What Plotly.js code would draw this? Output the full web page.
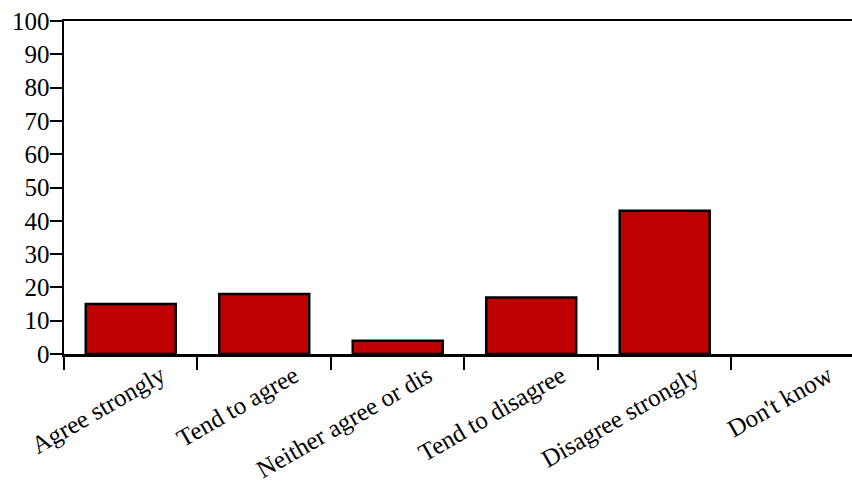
<!DOCTYPE html>
<html>
<head>
<meta charset="utf-8">
<script src="https://cdn.plot.ly/plotly-3.0.1.min.js"></script>
<style>
html,body{margin:0;padding:0;background:#fff;overflow:hidden;}
#chart{width:852px;height:488px;}
</style>
</head>
<body>
<div id="chart"></div>
<script>
var categories = ["Agree strongly", "Tend to agree", "Neither agree or dis", "Tend to disagree", "Disagree strongly", "Don't know"];
var values = [15, 18, 4, 17, 43, 0];
var yTickValues = [0, 10, 20, 30, 40, 50, 60, 70, 80, 90, 100];

var trace = {
  type: 'bar',
  x: categories,
  y: values,
  width: 0.674,
  marker: {color: '#BE0000', line: {color: '#000', width: values.map(function(v){ return v > 0 ? 2.5 : 0; })}},
  hoverinfo: 'none'
};

var family = 'Liberation Serif, Times New Roman, Times, serif';
var xfont = {family: family, size: 25, color: '#000'};
var yfont = {family: family, size: 25, color: '#000'};

var layout = {
  width: 852,
  height: 488,
  margin: {l: 64, r: 0, t: 21, b: 134, pad: 0},
  paper_bgcolor: '#fff',
  plot_bgcolor: '#fff',
  showlegend: false,
  font: yfont,
  bargap: 0,
  xaxis: {
    type: 'category',
    range: [-0.5, 5.403],
    tickson: 'boundaries',
    ticks: 'outside',
    ticklen: 13,
    tickwidth: 2,
    tickcolor: '#000',
    showline: true,
    linecolor: '#000',
    linewidth: 2.5,
    mirror: true,
    showgrid: false,
    zeroline: false,
    tickangle: -30,
    ticklabelshift: 30,
    ticklabelstandoff: -5,
    tickfont: xfont,
    fixedrange: true
  },
  yaxis: {
    range: [0, 100],
    tickvals: yTickValues,
    ticktext: yTickValues.map(String),
    ticks: 'outside',
    ticklen: 12,
    tickwidth: 2,
    tickcolor: '#000',
    showline: true,
    linecolor: '#000',
    linewidth: 2.5,
    showgrid: false,
    zeroline: false,
    ticklabelstandoff: -5,
    tickfont: yfont,
    fixedrange: true
  }
};

Plotly.newPlot('chart', [trace], layout, {displayModeBar: false, staticPlot: true});
</script>
</body>
</html>
